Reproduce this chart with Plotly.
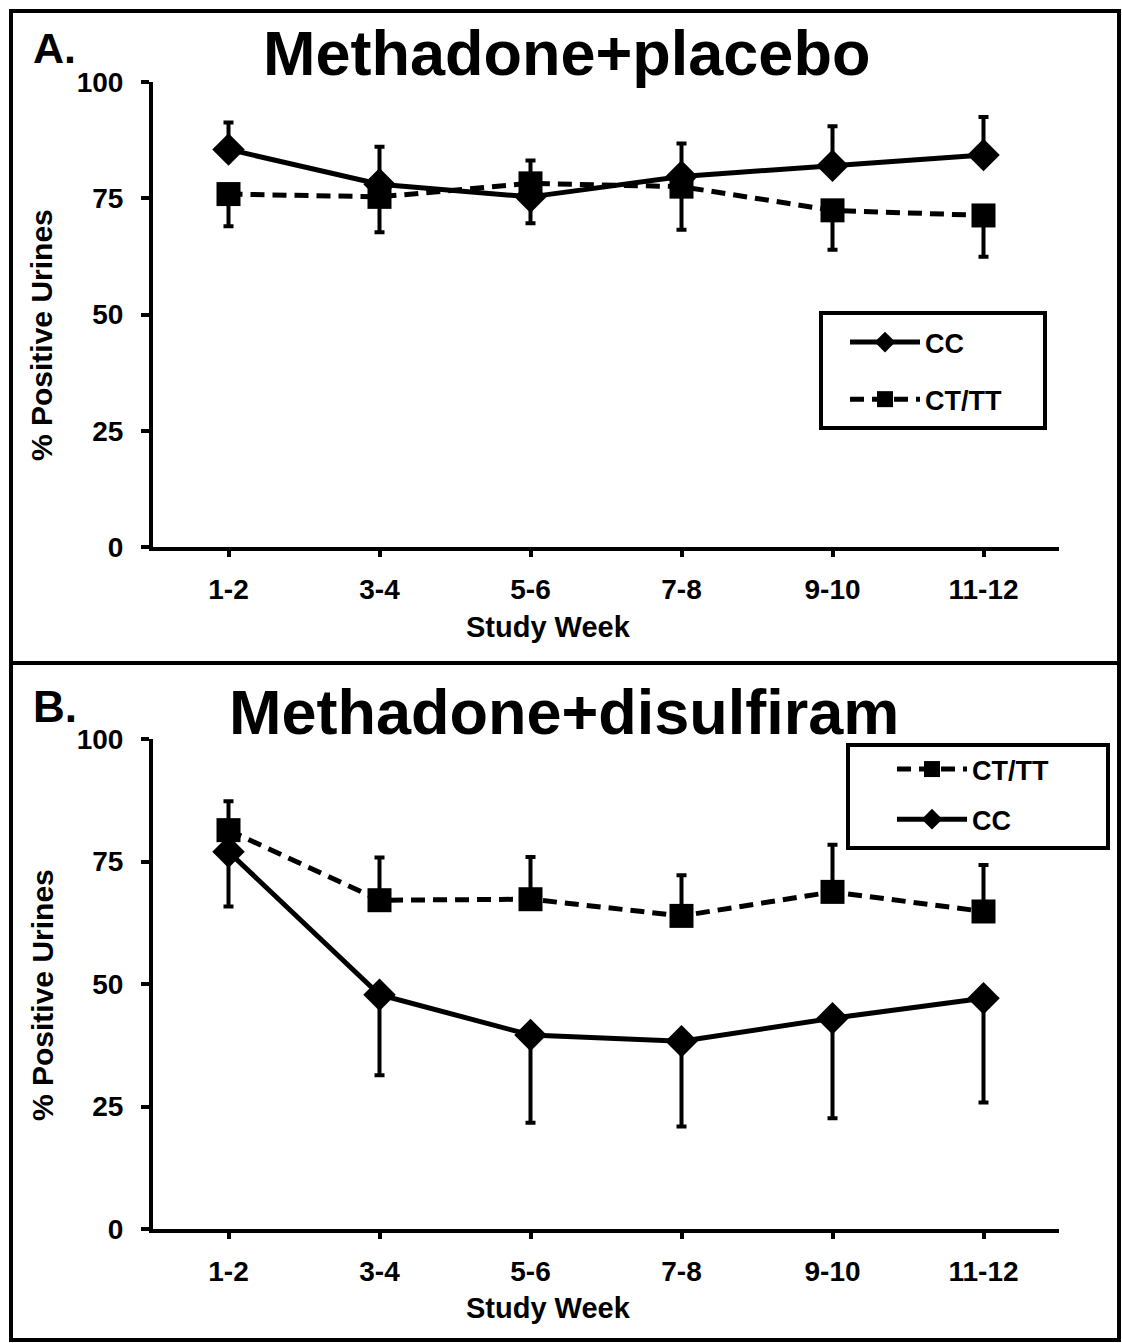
import plotly.graph_objects as go

# ---------------- data ----------------
weeks = ["1-2", "3-4", "5-6", "7-8", "9-10", "11-12"]

# Panel A: Methadone+placebo
a_cc = [85.5, 78.0, 75.3, 79.7, 82.0, 84.3]
a_cc_err_up = [5.8, 8.1, 7.8, 7.1, 8.5, 8.2]
a_ct = [75.9, 75.3, 78.2, 77.5, 72.4, 71.3]
a_ct_err_down = [6.9, 7.6, 8.6, 9.3, 8.5, 8.9]

# Panel B: Methadone+disulfiram
b_ct = [81.4, 67.1, 67.3, 63.9, 68.8, 64.8]
b_ct_err_up = [5.9, 8.7, 8.6, 8.3, 9.6, 9.5]
b_cc = [77.0, 47.8, 39.6, 38.3, 43.0, 47.1]
b_cc_err_down = [11.2, 16.4, 17.9, 17.4, 20.4, 21.3]

y_ticks = [0, 25, 50, 75, 100]

# ---------------- layout helpers ----------------
W, H = 1122, 1343
FONT = "Liberation Sans, Arial, sans-serif"


def px(x):
    return x / W


def py(y):
    return 1 - y / H


zeros = [0] * len(weeks)

fig = go.Figure()


def add_series(y, err_up, err_down, name, symbol, dash, xa, ya, legend, rank, msize):
    fig.add_trace(go.Scatter(
        x=weeks, y=y, name=name, mode="lines+markers",
        xaxis=xa, yaxis=ya, legend=legend, legendrank=rank,
        legendgroup=name + legend,
        line=dict(color="black", width=5, dash=dash),
        marker=dict(symbol=symbol, size=msize, color="black", line=dict(width=0)),
        error_y=dict(type="data", symmetric=False, array=err_up, arrayminus=err_down,
                     color="black", thickness=4, width=5),
    ))


# Panel A (CT/TT drawn first, CC on top)
add_series(a_ct, zeros, a_ct_err_down, "CT/TT", "square", "14px,8px", "x", "y", "legend", 2, 24)
add_series(a_cc, a_cc_err_up, zeros, "CC", "diamond", "solid", "x", "y", "legend", 1, 25)
# Panel B
add_series(b_cc, zeros, b_cc_err_down, "CC", "diamond", "solid", "x2", "y2", "legend2", 2, 25)
add_series(b_ct, b_ct_err_up, zeros, "CT/TT", "square", "14px,8px", "x2", "y2", "legend2", 1, 24)

xdom = [px(153), px(1059)]
tickfont = dict(family=FONT, size=28, color="black", weight="bold")
axis_common = dict(showline=True, linecolor="black", linewidth=4, showgrid=False, zeroline=False,
                   automargin=False,
                   ticks="outside", tickcolor="black", tickwidth=4, tickfont=tickfont)

legend_font = dict(family=FONT, size=27, color="black", weight="bold")

fig.update_layout(
    template="none",
    width=W, height=H, margin=dict(l=0, r=0, t=0, b=0, pad=0, autoexpand=False),
    paper_bgcolor="white", plot_bgcolor="white",
    font=dict(family=FONT, color="black"),
    xaxis=dict(domain=xdom, anchor="y", type="category", range=[-0.5, 5.5], ticklen=6,
               ticklabelstandoff=8, **axis_common),
    yaxis=dict(domain=[py(547), py(82)], anchor="x", range=[0, 100], tickvals=y_ticks,
               ticklen=8, ticklabelstandoff=12, **axis_common),
    xaxis2=dict(domain=xdom, anchor="y2", type="category", range=[-0.5, 5.5], ticklen=6,
                ticklabelstandoff=8, **axis_common),
    yaxis2=dict(domain=[py(1229), py(739)], anchor="x2", range=[0, 100], tickvals=y_ticks,
                ticklen=8, ticklabelstandoff=12, **axis_common),
    legend=dict(x=px(845), y=py(318), xanchor="left", yanchor="top",
                borderwidth=0, bgcolor="rgba(0,0,0,0)", font=legend_font,
                tracegroupgap=19, itemwidth=70, traceorder="grouped"),
    legend2=dict(x=px(892), y=py(745), xanchor="left", yanchor="top",
                 borderwidth=0, bgcolor="rgba(0,0,0,0)", font=legend_font,
                 tracegroupgap=12, itemwidth=70, traceorder="grouped"),
    showlegend=True,
)

# Frame and legend boxes
frame = dict(color="black", width=4)
fig.add_shape(type="rect", xref="paper", yref="paper", x0=px(11), x1=px(1119), y0=py(1340), y1=py(11), line=frame)
fig.add_shape(type="line", xref="paper", yref="paper", x0=px(11), x1=px(1119), y0=py(663), y1=py(663), line=frame)
fig.add_shape(type="rect", xref="paper", yref="paper", x0=px(821), x1=px(1045), y0=py(428), y1=py(313), line=frame)
fig.add_shape(type="rect", xref="paper", yref="paper", x0=px(848), x1=px(1108), y0=py(848), y1=py(745), line=frame)

ann = []


def text(x, y, s, size, xanchor="center", yanchor="middle", angle=0):
    ann.append(dict(x=px(x), y=py(y), xref="paper", yref="paper", text="<b>%s</b>" % s,
                    showarrow=False, xanchor=xanchor, yanchor=yanchor, textangle=angle,
                    font=dict(family=FONT, size=size, color="black")))


text(566, 53, "Methadone+placebo", 63)
text(564, 712, "Methadone+disulfiram", 63)
text(31, 48, "A.", 43, xanchor="left")
text(31, 706, "B.", 44, xanchor="left")
text(548, 627, "Study Week", 29)
text(548, 1308, "Study Week", 29)
text(42, 335, "% Positive Urines", 30, angle=-90)
text(42, 995, "% Positive Urines", 30, angle=-90)
fig.update_layout(annotations=ann)

fig.write_html("out.html", config={"displayModeBar": False},
               post_script="document.body.style.margin='0';document.body.style.padding='0';")
